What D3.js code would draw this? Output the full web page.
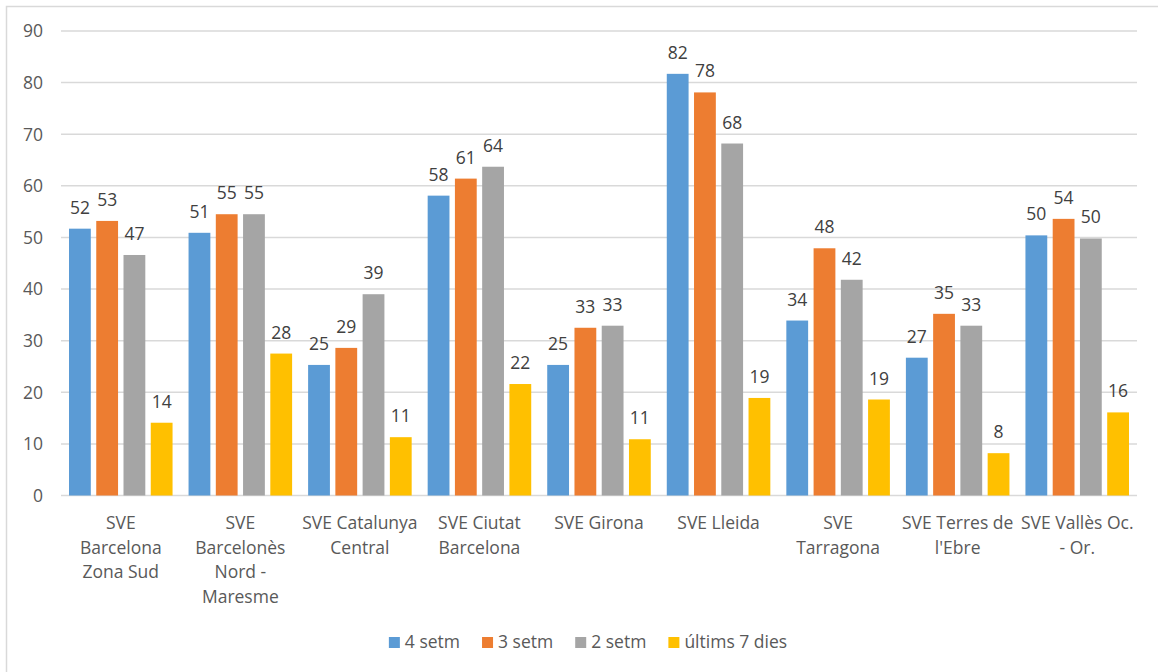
<!DOCTYPE html>
<html>
<head>
<meta charset="utf-8">
<script src="https://cdn.jsdelivr.net/npm/d3@7"></script>
<style>
  body { margin: 0; background: #fff; }
  svg { display: block; font-family: "Open Sans", sans-serif; }
</style>
</head>
<body>
<div id="chart"></div>
<script>
// categories (line breaks as in the original wrapped labels)
var categories = [
    "SVE\nBarcelona\nZona Sud",
    "SVE\nBarcelonès\nNord -\nMaresme",
    "SVE Catalunya\nCentral",
    "SVE Ciutat\nBarcelona",
    "SVE Girona",
    "SVE Lleida",
    "SVE\nTarragona",
    "SVE Terres de\nl'Ebre",
    "SVE Vallès Oc.\n- Or."
];
var seriesNames = ["4 setm", "3 setm", "2 setm", "últims 7 dies"];
var seriesColors = ["#5B9BD5", "#ED7D31", "#A5A5A5", "#FFC000"];

var setm4 = [51.7, 50.9, 25.3, 58.1, 25.3, 81.7, 33.9, 26.7, 50.4];
var setm3 = [53.2, 54.5, 28.6, 61.4, 32.5, 78.1, 47.9, 35.2, 53.6];
var setm2 = [46.6, 54.5, 39.0, 63.7, 32.9, 68.2, 41.8, 32.9, 49.8];
var ultims7 = [14.1, 27.5, 11.3, 21.6, 10.9, 18.9, 18.6, 8.2, 16.1];

var yTicks = [0, 10, 20, 30, 40, 50, 60, 70, 80, 90];

var width = 1158, height = 672;
var seriesValues = [setm4, setm3, setm2, ultims7];

var svg = d3.select("#chart").append("svg")
    .attr("width", width)
    .attr("height", height);

// chart area border
svg.append("rect")
    .attr("x", 6.5).attr("y", 6.5)
    .attr("width", width + 20).attr("height", height + 20)
    .attr("fill", "#fff")
    .attr("stroke", "#d9d9d9")
    .attr("stroke-width", 1.5);

var x0 = d3.scaleBand()
    .domain(categories)
    .range([61, 1137]);

var x1 = d3.scaleBand()
    .domain(seriesNames)
    .range([8, x0.bandwidth() - 8])
    .paddingInner(0.2);

var y = d3.scaleLinear()
    .domain([0, 90])
    .range([495.5, 31]);

// gridlines + y labels
var yAxis = svg.append("g").attr("class", "y-axis");
yAxis.selectAll("line")
    .data(yTicks)
    .enter().append("line")
    .attr("x1", 61).attr("x2", 1137)
    .attr("y1", function(d) { return y(d); })
    .attr("y2", function(d) { return y(d); })
    .attr("stroke", "#d9d9d9")
    .attr("stroke-width", 1.5);
yAxis.selectAll("text")
    .data(yTicks)
    .enter().append("text")
    .attr("x", 43)
    .attr("y", function(d) { return y(d); })
    .attr("dy", "0.36em")
    .attr("text-anchor", "end")
    .attr("font-size", "17.5px")
    .attr("fill", "#595959")
    .text(function(d) { return d; });

// bars
var groups = svg.selectAll(".group")
    .data(categories)
    .enter().append("g")
    .attr("class", "group")
    .attr("transform", function(d) { return "translate(" + x0(d) + ",0)"; });

var barData = function(d, i) {
    return seriesNames.map(function(s, j) {
        return { series: s, color: seriesColors[j], value: seriesValues[j][i] };
    });
};

groups.selectAll("rect")
    .data(barData)
    .enter().append("rect")
    .attr("x", function(d) { return x1(d.series); })
    .attr("y", function(d) { return y(d.value); })
    .attr("width", x1.bandwidth())
    .attr("height", function(d) { return y(0) - y(d.value); })
    .attr("fill", function(d) { return d.color; });

groups.selectAll("text.value")
    .data(barData)
    .enter().append("text")
    .attr("class", "value")
    .attr("x", function(d) { return x1(d.series) + x1.bandwidth() / 2; })
    .attr("y", function(d) { return y(d.value) - 15; })
    .attr("text-anchor", "middle")
    .attr("font-size", "17.5px")
    .attr("fill", "#404040")
    .text(function(d) { return d3.format(".0f")(d.value); });

// category labels
var catLabels = svg.append("g").attr("class", "x-axis");
catLabels.selectAll("text")
    .data(categories)
    .enter().append("text")
    .attr("text-anchor", "middle")
    .attr("font-size", "17.5px")
    .attr("fill", "#595959")
    .attr("transform", function(d) {
        return "translate(" + (x0(d) + x0.bandwidth() / 2) + ",529)";
    })
    .each(function(d) {
        var t = d3.select(this);
        d.split("\n").forEach(function(line, k) {
            t.append("tspan")
                .attr("x", 0)
                .attr("y", k * 24.6)
                .text(line);
        });
    });

// legend
var legend = svg.append("g").attr("class", "legend");
var items = legend.selectAll("g")
    .data(seriesNames)
    .enter().append("g");
items.append("rect")
    .attr("width", 11).attr("height", 11)
    .attr("y", -11)
    .attr("fill", function(d, i) { return seriesColors[i]; });
items.append("text")
    .attr("x", 16)
    .attr("y", 0)
    .attr("font-size", "17.5px")
    .attr("fill", "#595959")
    .text(function(d) { return d; });

var offset = 0;
var positions = [];
items.each(function() {
    var w = 16 + d3.select(this).select("text").node().getComputedTextLength();
    positions.push(offset);
    offset += w + 22;
});
var total = offset - 22;
var startX = 588 - total / 2;
items.attr("transform", function(d, i) {
    return "translate(" + (startX + positions[i]) + ",648)";
});
</script>
</body>
</html>
